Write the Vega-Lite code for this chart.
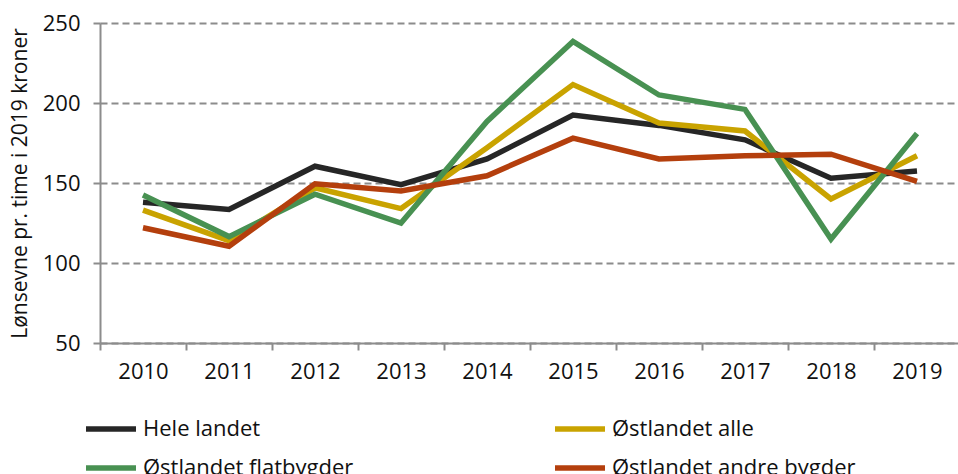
{
  "$schema": "https://vega.github.io/schema/vega-lite/v6.json",
  "width": 860,
  "height": 320,
  "autosize": {"type": "none"},
  "padding": {"left": 100, "top": 23, "right": 0, "bottom": 131},
  "background": "white",
  "config": {
    "font": "Open Sans",
    "view": {"stroke": null},
    "axis": {"labelFont": "Open Sans", "labelFontSize": 22, "labelColor": "#111111", "domainColor": "#8c8c8c", "domainWidth": 2, "tickColor": "#8c8c8c", "tickWidth": 2, "tickSize": 7}
  },
  "data": {
    "values": [
      {"year": "2010", "serie": "Hele landet", "v": 138},
      {"year": "2011", "serie": "Hele landet", "v": 133.5},
      {"year": "2012", "serie": "Hele landet", "v": 160.5},
      {"year": "2013", "serie": "Hele landet", "v": 149},
      {"year": "2014", "serie": "Hele landet", "v": 165},
      {"year": "2015", "serie": "Hele landet", "v": 192.5},
      {"year": "2016", "serie": "Hele landet", "v": 186},
      {"year": "2017", "serie": "Hele landet", "v": 177},
      {"year": "2018", "serie": "Hele landet", "v": 153},
      {"year": "2019", "serie": "Hele landet", "v": 157.5},
      {"year": "2010", "serie": "Østlandet alle", "v": 133},
      {"year": "2011", "serie": "Østlandet alle", "v": 114},
      {"year": "2012", "serie": "Østlandet alle", "v": 147},
      {"year": "2013", "serie": "Østlandet alle", "v": 134},
      {"year": "2014", "serie": "Østlandet alle", "v": 172},
      {"year": "2015", "serie": "Østlandet alle", "v": 211.5},
      {"year": "2016", "serie": "Østlandet alle", "v": 187.5},
      {"year": "2017", "serie": "Østlandet alle", "v": 182.5},
      {"year": "2018", "serie": "Østlandet alle", "v": 140},
      {"year": "2019", "serie": "Østlandet alle", "v": 167},
      {"year": "2010", "serie": "Østlandet flatbygder", "v": 142.5},
      {"year": "2011", "serie": "Østlandet flatbygder", "v": 116.5},
      {"year": "2012", "serie": "Østlandet flatbygder", "v": 143},
      {"year": "2013", "serie": "Østlandet flatbygder", "v": 125},
      {"year": "2014", "serie": "Østlandet flatbygder", "v": 188.5},
      {"year": "2015", "serie": "Østlandet flatbygder", "v": 238.5},
      {"year": "2016", "serie": "Østlandet flatbygder", "v": 205},
      {"year": "2017", "serie": "Østlandet flatbygder", "v": 196},
      {"year": "2018", "serie": "Østlandet flatbygder", "v": 115},
      {"year": "2019", "serie": "Østlandet flatbygder", "v": 181},
      {"year": "2010", "serie": "Østlandet andre bygder", "v": 122},
      {"year": "2011", "serie": "Østlandet andre bygder", "v": 110.5},
      {"year": "2012", "serie": "Østlandet andre bygder", "v": 149.5},
      {"year": "2013", "serie": "Østlandet andre bygder", "v": 145},
      {"year": "2014", "serie": "Østlandet andre bygder", "v": 154.5},
      {"year": "2015", "serie": "Østlandet andre bygder", "v": 178},
      {"year": "2016", "serie": "Østlandet andre bygder", "v": 165},
      {"year": "2017", "serie": "Østlandet andre bygder", "v": 167},
      {"year": "2018", "serie": "Østlandet andre bygder", "v": 168},
      {"year": "2019", "serie": "Østlandet andre bygder", "v": 151}
    ]
  },
  "mark": {"type": "line", "strokeWidth": 5.5, "strokeJoin": "miter", "strokeCap": "butt"},
  "encoding": {
    "x": {
      "field": "year", "type": "ordinal", "title": null,
      "scale": {"type": "band", "paddingInner": 0, "paddingOuter": 0},
      "axis": {"labelAngle": 0, "labelPadding": 11, "tickBand": "extent", "grid": false}
    },
    "y": {
      "field": "v", "type": "quantitative",
      "title": "Lønsevne pr. time i 2019 kroner",
      "scale": {"domain": [50, 250], "nice": false, "zero": false},
      "axis": {
        "values": [50, 100, 150, 200, 250],
        "grid": true, "gridColor": "#8c8c8c", "gridWidth": 2, "gridDash": [7, 4],
        "tickDash": [7, 4],
        "labelPadding": 13,
        "titleFont": "Open Sans", "titleFontSize": 21, "titleFontWeight": "normal", "titleColor": "#111111", "titlePadding": 12
      }
    },
    "stroke": {
      "field": "serie", "type": "nominal",
      "sort": ["Hele landet", "Østlandet alle", "Østlandet flatbygder", "Østlandet andre bygder"],
      "scale": {
        "domain": ["Hele landet", "Østlandet alle", "Østlandet flatbygder", "Østlandet andre bygder"],
        "range": ["#262626", "#C9A300", "#489152", "#B43F0D"]
      },
      "legend": {
        "title": null, "orient": "none", "legendX": -17, "legendY": 378,
        "direction": "horizontal", "columns": 2, "columnPadding": 190, "rowPadding": -15,
        "symbolType": "stroke", "symbolSize": 2500, "symbolStrokeWidth": 5.5,
        "labelFont": "Open Sans", "labelFontSize": 22, "labelColor": "#111111", "labelOffset": 4, "labelLimit": 400, "padding": 0
      }
    }
  }
}
